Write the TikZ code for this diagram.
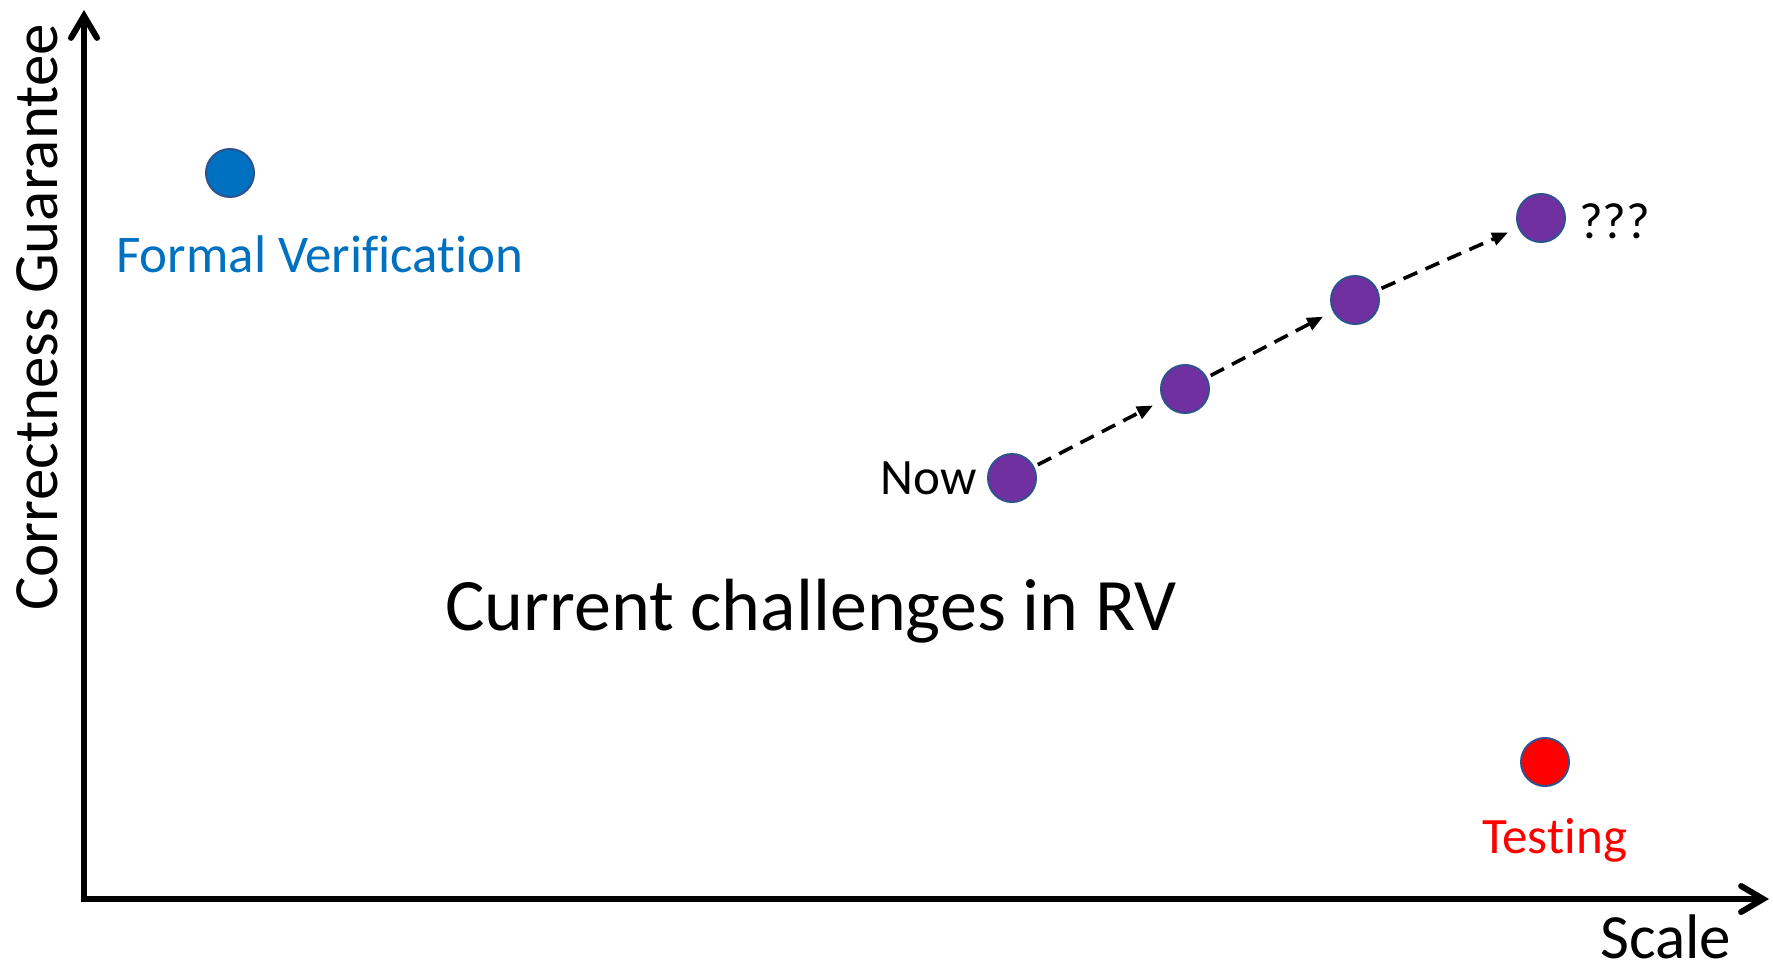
\documentclass[tikz,border=0pt]{standalone}
\usepackage{fontspec}
\setmainfont{Carlito}[Ligatures=NoCommon]
\usetikzlibrary{arrows.meta}
\definecolor{fvblue}{HTML}{0070C0}
\definecolor{rvpurple}{HTML}{7030A0}
\definecolor{tred}{HTML}{FF0000}
\definecolor{dotedge}{HTML}{2F528F}
\tikzset{
  dot/.style={circle, minimum size=48pt, inner sep=0pt, draw=dotedge, line width=2pt},
  axis/.style={line width=6pt, line cap=round, {Straight Barb[length=22pt,width=26pt,line cap=round]}-{Straight Barb[length=22pt,width=26pt,line cap=round]}},
  dasharrow/.style={line width=3.6pt, dash pattern=on 15pt off 9pt, -{Triangle[length=16pt,width=13pt]}, shorten <=4pt, shorten >=11pt},
  lbl/.style={inner sep=0pt, font=\fontsize{51}{60}\selectfont},
  biglbl/.style={inner sep=0pt, font=\fontsize{63}{74}\selectfont},
}
\begin{document}
\begin{tikzpicture}[x=1pt,y=-1pt]
\useasboundingbox (0,0) rectangle (1773,969);
\coordinate (ytip) at (84,10);
\coordinate (xtip) at (1769,899);
\draw[axis] (ytip) |- (xtip);
\node[biglbl, rotate=90, anchor=base west] (ylabel) at (57,611) {Correctness Guarantee};
\node[biglbl, anchor=base west] (xlabel) at (1600,958) {Scale};
% formal verification
\node[dot, fill=fvblue] (fv) at (230,173) {};
\node[lbl, font=\fontsize{53}{62}\selectfont, text=fvblue, anchor=base west] (fvl) at (116,272) {Formal Veri\mbox{f}\mbox{i}cation};
% testing
\node[dot, fill=tred] (te) at (1545,762) {};
\node[lbl, text=tred, anchor=base west] (tel) at (1482,853) {Tes\mbox{t}\mbox{i}ng};
% RV path
\node[dot, fill=rvpurple] (d1) at (1012,478) {};
\node[dot, fill=rvpurple] (d2) at (1185,389) {};
\node[dot, fill=rvpurple] (d3) at (1355,300) {};
\node[dot, fill=rvpurple] (d4) at (1541,218) {};
\node[lbl, anchor=base east] (now) at (977,494) {Now};
\node[lbl, anchor=base west] (qq) at (1579,238) {???};
\draw[dasharrow] (d1) -- (d2);
\draw[dasharrow] (d2) -- (d3);
\draw[dasharrow] (d3) -- (d4);
\node[inner sep=0pt, font=\fontsize{74}{88}\selectfont, anchor=base west] (title) at (445,630) {Current challenges in RV};
\end{tikzpicture}
\end{document}
